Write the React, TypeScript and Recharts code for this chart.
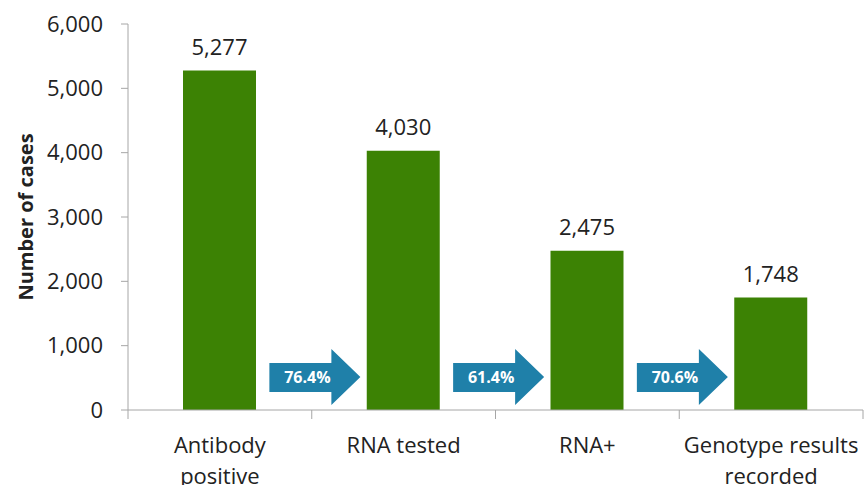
import { BarChart, Bar, XAxis, YAxis, LabelList } from 'recharts';

// カテゴリ（軸ラベルは改行位置ごとに保持）
const categoryLines = [
  ['Antibody', 'positive'],
  ['RNA tested'],
  ['RNA+'],
  ['Genotype results', 'recorded'],
];
const cases = [5277, 4030, 2475, 1748];
// 前の段階からの移行率（最初の棒には矢印なし）
const conversion = ['', '76.4%', '61.4%', '70.6%'];
const yTicks = [0, 1000, 2000, 3000, 4000, 5000, 6000];

const CHART_W = 865;
const CHART_H = 485;
const Y_AXIS_W = 128;
const MARGIN = { top: 24, right: 2, bottom: 0, left: 0 };
const BAND = (CHART_W - Y_AXIS_W - MARGIN.left - MARGIN.right) / categoryLines.length;

const GREEN = '#3c8204';
const BLUE = '#1f80a9';
const AXIS = '#a6a6a6';
const TEXT = '#222222';
const FONT = '"Open Sans", sans-serif';

const data = categoryLines.map((lines, i) => ({
  name: lines.join(' '),
  cases: cases[i],
  conversion: conversion[i],
}));

const fmt = (v: number) => v.toLocaleString('en-US');

// X軸ラベル：カテゴリ境界に目盛り線、ラベルは2行まで
const CategoryTick = (props: any) => {
  const { x, y, payload, index } = props;
  const half = payload?.offset ?? BAND / 2;
  const lines = categoryLines[index] ?? [payload.value];
  return (
    <g>
      <line x1={x - half} x2={x - half} y1={y} y2={y + 9} stroke={AXIS} />
      {index === categoryLines.length - 1 && (
        <line x1={x + half} x2={x + half} y1={y} y2={y + 9} stroke={AXIS} />
      )}
      {lines.map((line, k) => (
        <text
          key={k}
          x={x}
          y={y + 43 + k * 31}
          textAnchor="middle"
          fill={TEXT}
          fontSize={22}
          fontFamily={FONT}
        >
          {line}
        </text>
      ))}
    </g>
  );
};

// 棒の左側に移行率の矢印を描く
const renderArrow = (props: any) => {
  const vb = props.viewBox ?? props;
  const { x, y, width, height } = vb;
  const text = props.value;
  if (!text) return null;
  const base = y + height;
  const cx = x + width / 2 - BAND / 2 + 3;
  const left = cx - 45;
  const shaftEnd = left + 62;
  const tip = left + 91;
  const d = [
    `M${left},${base - 47}`,
    `L${shaftEnd},${base - 47}`,
    `L${shaftEnd},${base - 61}`,
    `L${tip},${base - 33}`,
    `L${shaftEnd},${base - 5}`,
    `L${shaftEnd},${base - 18}`,
    `L${left},${base - 18}`,
    'Z',
  ].join(' ');
  return (
    <g>
      <path d={d} fill={BLUE} />
      <text
        x={left + 38}
        y={base - 27}
        textAnchor="middle"
        fill="#ffffff"
        fontSize={16}
        fontWeight="bold"
        fontFamily={FONT}
      >
        {text}
      </text>
    </g>
  );
};

const renderYTitle = (props: any) => {
  const vb = props.viewBox ?? { x: 0, y: MARGIN.top, height: 386 };
  return (
    <text
      x={0}
      y={0}
      transform={`translate(${33}, ${vb.y + vb.height / 2}) rotate(-90)`}
      textAnchor="middle"
      fill={TEXT}
      fontSize={20}
      fontWeight="bold"
      fontFamily={FONT}
    >
      Number of cases
    </text>
  );
};

export default function App() {
  return (
    <div style={{ position: 'absolute', left: 0, top: 0, width: CHART_W, height: CHART_H, background: '#fff' }}>
      <BarChart width={CHART_W} height={CHART_H} data={data} margin={MARGIN}>
        <XAxis
          dataKey="name"
          height={75}
          axisLine={{ stroke: AXIS }}
          tickLine={false}
          tickSize={0}
          tickMargin={0}
          interval={0}
          tick={<CategoryTick />}
        />
        <YAxis
          width={Y_AXIS_W}
          domain={[0, 6000]}
          ticks={yTicks}
          tickFormatter={fmt}
          axisLine={{ stroke: AXIS }}
          tickLine={{ stroke: AXIS }}
          tickSize={7}
          tickMargin={18}
          tick={{ fill: TEXT, fontSize: 22, fontFamily: FONT }}
          label={{ content: renderYTitle }}
        />
        <Bar dataKey="cases" fill={GREEN} barSize={73} isAnimationActive={false}>
          <LabelList
            dataKey="cases"
            position="top"
            offset={16}
            formatter={(v: any) => fmt(Number(v))}
            fill={TEXT}
            fontSize={22}
            fontFamily={FONT}
          />
          <LabelList dataKey="conversion" content={renderArrow} />
        </Bar>
      </BarChart>
    </div>
  );
}
